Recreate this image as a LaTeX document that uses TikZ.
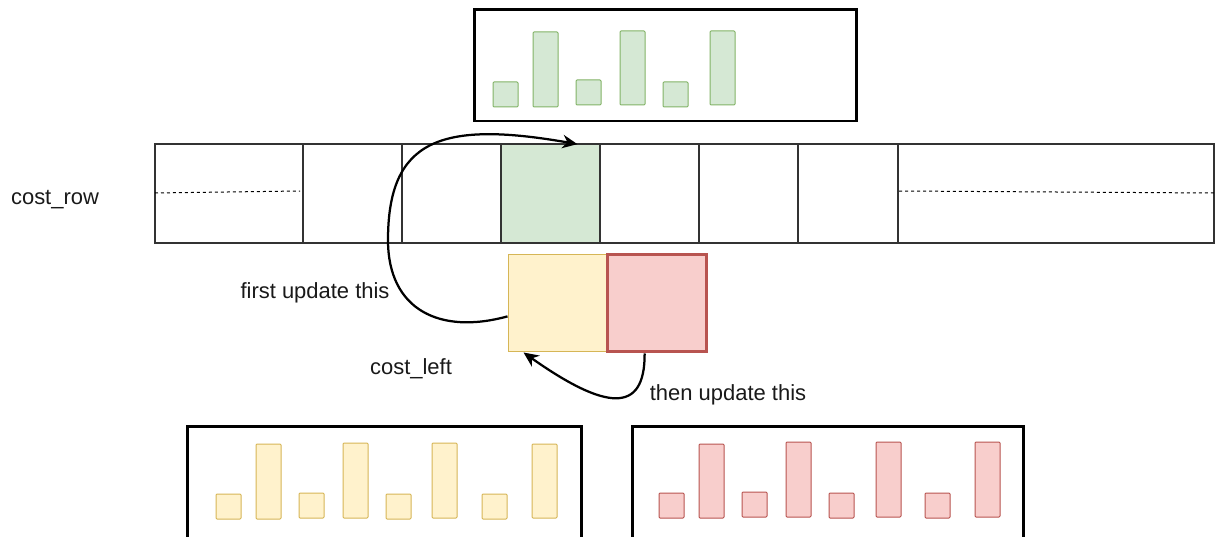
\documentclass[tikz,border=0pt]{standalone}
\usepackage{fontspec}
\setmainfont{Liberation Sans}
\usetikzlibrary{arrows.meta,calc,positioning}

\definecolor{greenfill}{HTML}{D5E8D4}
\definecolor{greenline}{HTML}{82B366}
\definecolor{yellowfill}{HTML}{FFF2CC}
\definecolor{yellowline}{HTML}{D6B656}
\definecolor{redfill}{HTML}{F8CECC}
\definecolor{redline}{HTML}{B85450}

\tikzset{
  frame/.style={draw=black,line width=0.06cm},
  gbar/.style={draw=greenline,fill=greenfill,line width=0.02cm,rounded corners=0.02cm},
  ybar/.style={draw=yellowline,fill=yellowfill,line width=0.02cm,rounded corners=0.02cm},
  rbar/.style={draw=redline,fill=redfill,line width=0.02cm,rounded corners=0.02cm},
  cellbox/.style={inner sep=0pt,minimum width=1.98cm,minimum height=1.96cm},
  lbl/.style={font=\fontsize{12.5}{15}\selectfont,inner sep=0pt,text=black!90},
  flow/.style={-{Stealth[length=0.3cm,width=0.27cm]},line width=0.045cm}
}

\begin{document}
\begin{tikzpicture}[x=0.02cm,y=-0.02cm]
  \useasboundingbox (0,0) rectangle (1217,537);
  \clip (0,0) rectangle (1217,537);

  % top buffer
  \draw[frame] (474,10) rectangle (856,121);
  \foreach \x/\t/\b in {493/82/107,533/32/107,576/80/105,620/31/105,663/82/107,710/31/105}
    \draw[gbar] (\x,\t) rectangle (\x+25,\b);

  % cost_row
  \node[lbl] (rowlabel) at (55,200) {cost\_row};
  \node[cellbox,fill=greenfill] (target) at (550.5,193.5) {};
  \draw[line width=0.025cm,black!80] (155,144) rectangle (1214,243);
  \foreach \x in {303,402,501,600,699,798,898}
    \draw[line width=0.025cm,black!80] (\x,144) -- (\x,243);
  \draw[line width=0.02cm,dash pattern=on 0.06cm off 0.06cm] (155,193) -- (300,191);
  \draw[line width=0.02cm,dash pattern=on 0.06cm off 0.06cm] (899,191) -- (1214,193);

  % cost_left
  \node[cellbox,draw=yellowline,fill=yellowfill,line width=0.02cm] (yellow) at (557.5,303) {};
  \node[cellbox,minimum width=2cm,draw=redline,fill=redfill,line width=0.06cm] (red) at (657,303) {};
  \node[lbl] (leftlabel) at (411,369) {cost\_left};
  \node[lbl] (firstlabel) at (315,293) {first update this};
  \node[lbl] (thenlabel) at (728,395) {then update this};

  % update order
  \draw[flow] ($(yellow.west)!0.27!(yellow.south west)$)
    .. controls (440,335) and (388,310) .. (388,240)
    .. controls (388,140) and (440,120) .. ($(target.north)!0.54!(target.north east)$);
  \draw[flow] ($(red.south)!0.24!(red.south west)$)
    .. controls (645,415) and (605,410) .. ($(yellow.south west)!0.32!(yellow.south)$);

  % bottom buffers
  \draw[frame] (187,426) rectangle (581,560);
  \foreach \x/\t/\b in {216/494/519,256/444/519,299/493/518,343/443/518,386/494/519,432/443/518,482/494/519,532/444/518}
    \draw[ybar] (\x,\t) rectangle (\x+25,\b);
  \draw[frame] (632,426) rectangle (1023,560);
  \foreach \x/\t/\b in {659/493/518,699/444/518,742/492/517,786/442/517,829/493/518,876/442/517,925/493/518,975/442/517}
    \draw[rbar] (\x,\t) rectangle (\x+25,\b);
\end{tikzpicture}
\end{document}
